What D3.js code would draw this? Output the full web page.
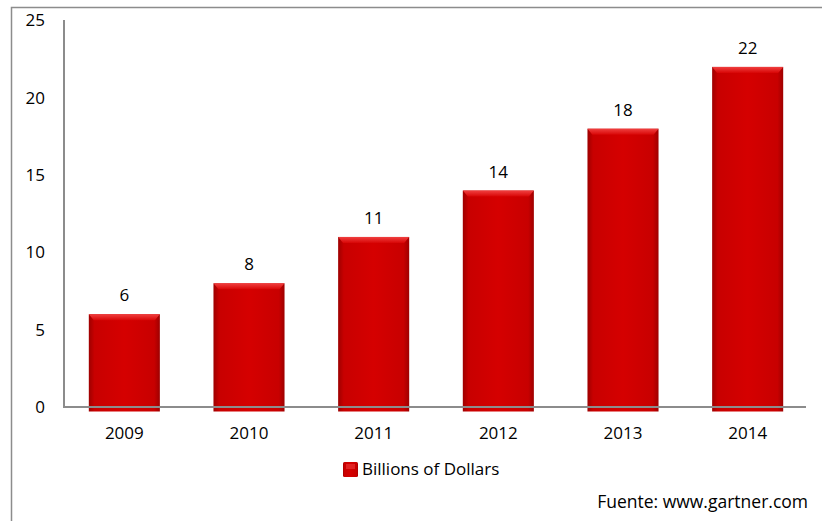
<!DOCTYPE html>
<html>
<head>
<meta charset="utf-8">
<script src="https://cdn.jsdelivr.net/npm/d3@7"></script>
<style>
  body { margin: 0; background: #fff; }
  text { font-family: "Open Sans", Lato, sans-serif; fill: #000; }
</style>
</head>
<body>
<div id="chart"></div>
<script>
var years = ["2009", "2010", "2011", "2012", "2013", "2014"];
var billions = [6, 8, 11, 14, 18, 22];
var yTicks = [0, 5, 10, 15, 20, 25];
var seriesName = "Billions of Dollars";
var sourceNote = "Fuente: www.gartner.com";

var svgWidth = 822, svgHeight = 521;
var fontSize = "17px";

var svg = d3.select("#chart").append("svg")
    .attr("width", svgWidth)
    .attr("height", svgHeight);

// gradients for the bevelled bars
var defs = svg.append("defs");
var bodyGrad = defs.append("linearGradient").attr("id", "barBody")
    .attr("x1", "0").attr("x2", "1").attr("y1", "0").attr("y2", "0");
bodyGrad.append("stop").attr("offset", "0").attr("stop-color", "#9e0000");
bodyGrad.append("stop").attr("offset", "0.08").attr("stop-color", "#c80000");
bodyGrad.append("stop").attr("offset", "0.5").attr("stop-color", "#d50000");
bodyGrad.append("stop").attr("offset", "0.92").attr("stop-color", "#c80000");
bodyGrad.append("stop").attr("offset", "1").attr("stop-color", "#9e0000");
var topGrad = defs.append("linearGradient").attr("id", "barTop")
    .attr("x1", "0").attr("x2", "0").attr("y1", "0").attr("y2", "1");
topGrad.append("stop").attr("offset", "0").attr("stop-color", "#f04040");
topGrad.append("stop").attr("offset", "1").attr("stop-color", "#d80606");

// outer frame
svg.append("rect")
    .attr("x", 11.5).attr("y", 7.5)
    .attr("width", 830).attr("height", 530)
    .attr("fill", "none")
    .attr("stroke", "#8c8c8c")
    .attr("stroke-width", 1.5);

var x = d3.scaleBand()
    .domain(years)
    .range([62, 810])
    .paddingInner(0.43)
    .paddingOuter(0.215);

var y = d3.scaleLinear()
    .domain([0, 25])
    .range([407, 20.5]);

// bars
var bars = svg.append("g").selectAll("g")
    .data(years)
    .enter()
    .append("g");

bars.append("rect")
    .attr("x", d => x(d))
    .attr("y", (d, i) => y(billions[i]))
    .attr("width", x.bandwidth())
    .attr("height", (d, i) => y(0) - y(billions[i]) + 4.5)
    .attr("fill", "url(#barBody)");

bars.append("path")
    .attr("d", function(d, i) {
        var x0 = x(d), x1 = x(d) + x.bandwidth(), t = y(billions[i]);
        return "M" + x0 + "," + t + "L" + x1 + "," + t +
            "L" + (x1 - 5) + "," + (t + 6) + "L" + (x0 + 5) + "," + (t + 6) + "Z";
    })
    .attr("fill", "url(#barTop)");

// value labels
bars.append("text")
    .attr("x", d => x(d) + x.bandwidth() / 2)
    .attr("y", (d, i) => y(billions[i]) - 13)
    .attr("text-anchor", "middle")
    .style("font-size", fontSize)
    .text((d, i) => billions[i]);

// axes
var axisColor = "#8c8c8c";
svg.append("line")
    .attr("x1", 64).attr("x2", 64)
    .attr("y1", 20).attr("y2", 407.5)
    .attr("stroke", axisColor).attr("stroke-width", 2);
svg.append("line")
    .attr("x1", 63).attr("x2", 806)
    .attr("y1", 407).attr("y2", 407)
    .attr("stroke", axisColor).attr("stroke-width", 2);

var leftAxis = d3.axisLeft(y).tickValues(yTicks).tickSize(0).tickPadding(19);
var yAxisG = svg.append("g").attr("transform", "translate(64,0)").call(leftAxis);
yAxisG.select(".domain").remove();
yAxisG.selectAll("text")
    .style("font-size", fontSize)
    .style("font-family", "'Open Sans', Lato, sans-serif");

var bottomAxis = d3.axisBottom(x).tickSize(0).tickPadding(20);
var xAxisG = svg.append("g").attr("transform", "translate(0,407)").call(bottomAxis);
xAxisG.select(".domain").remove();
xAxisG.selectAll("text")
    .style("font-size", fontSize)
    .style("font-family", "'Open Sans', Lato, sans-serif");

// legend
var legend = svg.append("g").attr("transform", "translate(343,462)");
legend.append("rect")
    .attr("width", 15).attr("height", 15)
    .attr("rx", 1.5)
    .attr("fill", "url(#barBody)");
legend.append("rect")
    .attr("x", 3).attr("y", 2).attr("width", 9).attr("height", 5)
    .attr("fill", "#e83030").attr("opacity", 0.7);
legend.append("text")
    .attr("x", 19).attr("y", 7.5)
    .attr("dy", "0.35em")
    .style("font-size", fontSize)
    .text(seriesName);

// source note
svg.append("text")
    .attr("x", 808).attr("y", 502)
    .attr("dy", "0.35em")
    .attr("text-anchor", "end")
    .style("font-size", "17.5px")
    .text(sourceNote);
</script>
</body>
</html>
